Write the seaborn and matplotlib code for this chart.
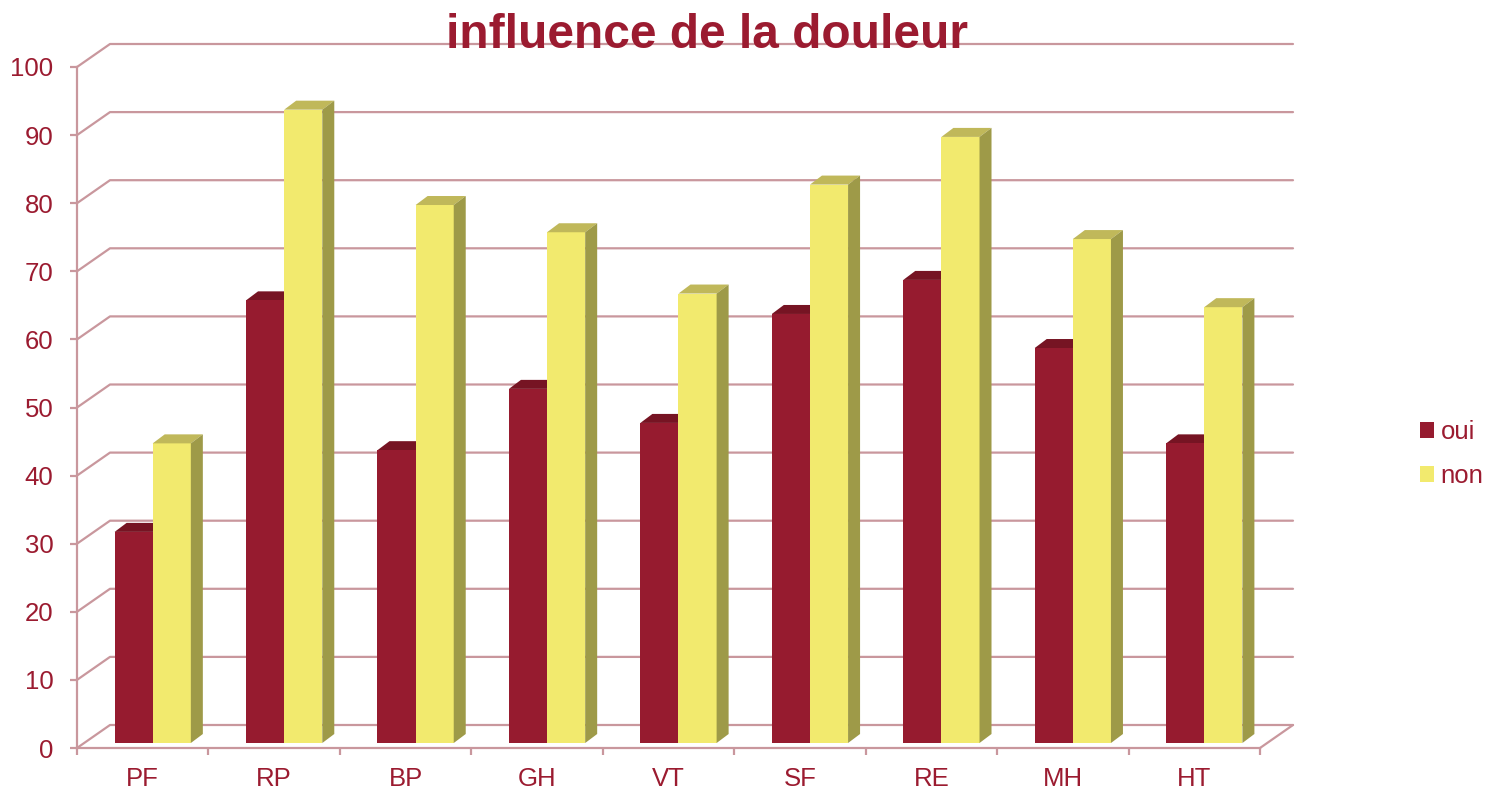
import numpy as np
import pandas as pd
import matplotlib
matplotlib.use("Agg")
import matplotlib.pyplot as plt
import matplotlib.transforms as mtransforms
from matplotlib.patches import Polygon
from matplotlib.lines import Line2D
import seaborn as sns

# ---- data ----
categories = ["PF", "RP", "BP", "GH", "VT", "SF", "RE", "MH", "HT"]
oui = [31, 65, 43, 52, 47, 63, 68, 58, 44]
non = [44, 93, 79, 75, 66, 82, 89, 74, 64]
series = ["oui", "non"]
yticks = list(range(0, 101, 10))
title = "influence de la douleur"

# ---- styles ----
TEXT = "#9B1B30"
GRID = "#C9979D"
front_col = {"oui": "#961B2F", "non": "#F2EA6E"}
top_col = {"oui": "#761423", "non": "#C0B85A"}
side_col = {"oui": "#6A1020", "non": "#9E9A48"}

sns.set_theme(style="white")
plt.rcParams["font.family"] = ["Liberation Sans", "DejaVu Sans"]

W, H = 1494, 802
fig = plt.figure(figsize=(W / 100, H / 100), dpi=100, facecolor="white")
x0, x1 = 77, 1260
ybot, ytop = 748, 67
ax = fig.add_axes([x0 / W, (H - ybot) / H, (x1 - x0) / W, (ybot - ytop) / H])
ax.patch.set_alpha(0)

df = pd.DataFrame({
    "cat": categories * len(series),
    "serie": [s for s in series for _ in categories],
    "val": oui + non,
})
sns.barplot(data=df, x="cat", y="val", hue="serie", hue_order=series,
            palette=front_col, width=0.58, saturation=1, linewidth=0,
            errorbar=None, ax=ax, zorder=3)
ax.set_xlim(-0.5, len(categories) - 0.5)
ax.set_ylim(0, 100)
ax.set_xlabel("")
ax.set_ylabel("")

# ---- pseudo-3D bars ----
BX, BY = 10, 5      # bar plane shift (display px)
DX, DY = 12, 9      # bar depth
shift = mtransforms.Affine2D().translate(BX, BY)
ident = mtransforms.IdentityTransform()
for cont, s in zip(ax.containers, series):
    for bar in cont:
        bar.set_transform(ax.transData + shift)
        x, w, h = bar.get_x(), bar.get_width(), bar.get_height()
        tl = ax.transData.transform((x, h)) + (BX, BY)
        tr = ax.transData.transform((x + w, h)) + (BX, BY)
        br = ax.transData.transform((x + w, 0)) + (BX, BY)
        d = np.array([DX, DY])
        z = 2 if s == series[0] else 3
        ax.add_patch(Polygon([tl, tr, tr + d, tl + d], closed=True, facecolor=top_col[s],
                             edgecolor="none", transform=ident, clip_on=False, zorder=z))
        ax.add_patch(Polygon([br, tr, tr + d, br + d], closed=True, facecolor=side_col[s],
                             edgecolor="none", transform=ident, clip_on=False, zorder=z))

# ---- back wall gridlines and floor ----
WX, WY = 33, 23
xl, xr = -0.5, len(categories) - 0.5
for t in yticks:
    pl = ax.transData.transform((xl, t))
    pr = ax.transData.transform((xr, t))
    ax.add_line(Line2D([pl[0], pl[0] + WX, pr[0] + WX], [pl[1], pl[1] + WY, pr[1] + WY],
                       color=GRID, lw=1.6, transform=ident, clip_on=False, zorder=1))
p0 = ax.transData.transform((xr, 0))
ax.add_line(Line2D([p0[0], p0[0] + WX], [p0[1], p0[1] + WY], color=GRID, lw=1.6,
                   transform=ident, clip_on=False, zorder=1))

# ---- axes ----
for sp in ["top", "right"]:
    ax.spines[sp].set_visible(False)
for sp in ["left", "bottom"]:
    ax.spines[sp].set_color(GRID)
    ax.spines[sp].set_linewidth(1.6)
ax.set_yticks(yticks)
ax.set_yticklabels([str(t) for t in yticks])
ax.tick_params(axis="y", left=True, length=5, width=1.6, color=GRID, pad=12,
               labelsize=18.5, labelcolor=TEXT)
ax.set_xticks(range(len(categories)))
ax.set_xticklabels(categories)
ax.set_xticks(np.arange(len(categories) + 1) - 0.5, minor=True)
ax.tick_params(axis="x", which="major", bottom=True, length=0, pad=14,
               labelsize=18.5, labelcolor=TEXT)
ax.tick_params(axis="x", which="minor", bottom=True, length=5, width=1.6, color=GRID)

# ---- legend ----
sns.move_legend(ax, "center left", bbox_to_anchor=(1420 / W, (H - 454) / H),
                bbox_transform=fig.transFigure, frameon=False, title=None,
                fontsize=18.5, handlelength=0.55, handleheight=0.55,
                handletextpad=0.25, labelspacing=0.78, borderpad=0,
                borderaxespad=0, labelcolor=TEXT)

fig.text(707 / W, (H - 48) / H, title, ha="center", va="baseline",
         fontsize=34.5, fontweight="bold", color=TEXT)

fig.savefig("out.png", dpi=100, facecolor="white")
